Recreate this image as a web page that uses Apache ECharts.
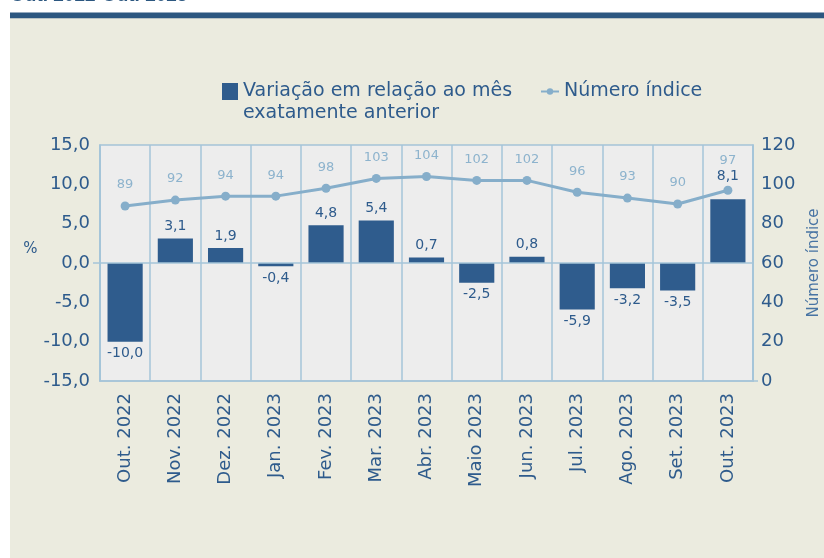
<!DOCTYPE html>
<html><head><meta charset="utf-8">
<script src="https://cdn.jsdelivr.net/npm/echarts@6/dist/echarts.min.js"></script>
<style>html,body{margin:0;padding:0;background:#fff}#c{width:824px;height:558px}</style>
</head><body><div id="c"></div>
<script>
const categories = ['Out. 2022','Nov. 2022','Dez. 2022','Jan. 2023','Fev. 2023','Mar. 2023','Abr. 2023','Maio 2023','Jun. 2023','Jul. 2023','Ago. 2023','Set. 2023','Out. 2023'];
const variacao = [-10.0, 3.1, 1.9, -0.4, 4.8, 5.4, 0.7, -2.5, 0.8, -5.9, -3.2, -3.5, 8.1];
const indice = [89, 92, 94, 94, 98, 103, 104, 102, 102, 96, 93, 90, 97];
const leftAxis = {min: -15, max: 15, interval: 5};
const rightAxis = {min: 0, max: 120, interval: 20};
const titleText = 'Out. 2022-Out. 2023';
const barName = 'Variação em relação ao mês exatamente anterior';
const barLegendLines = ['Variação em relação ao mês', 'exatamente anterior'];
const lineName = 'Número índice';

const DARK = '#2E5B8C', BAR = '#2F5C8D', LINE = '#86AECA', LINELBL = '#8DB3CD', GRIDC = '#A5C4D8';
const fmt = v => v.toFixed(1).replace('.', ',');
const font = '"DejaVu Sans", Verdana, sans-serif';
const last = variacao.length - 1;

const chart = echarts.init(document.getElementById('c'));
const baseGraphic = [
  {type: 'rect', shape: {x: 10, y: 18.5, width: 814, height: 540}, style: {fill: '#EBEBDF'}, z: -10, silent: true},
  {type: 'rect', shape: {x: 10, y: 12.5, width: 814, height: 5.5}, style: {fill: '#2C5780'}, z: -9, silent: true},
  {type: 'rect', shape: {x: 10, y: 18, width: 814, height: 1}, style: {fill: '#B9C3C4'}, z: -9, silent: true},
  {type: 'text', x: 10, y: 5, style: {text: titleText, fill: '#2C5780', font: 'bold 19px "Liberation Sans", Arial, sans-serif', verticalAlign: 'bottom'}, silent: true},
  {type: 'text', x: 243, y: 113, style: {text: barLegendLines[1], fill: DARK, font: '19px ' + font, verticalAlign: 'middle'}, silent: true}
];
const option = {
  backgroundColor: '#ffffff',
  textStyle: {fontFamily: font},
  animation: false,
  graphic: baseGraphic,
  legend: [
    {left: 217, top: 77, itemWidth: 16, itemHeight: 17, selectedMode: false,
     data: [{name: barName, icon: 'rect'}],
     formatter: () => barLegendLines[0],
     textStyle: {fontSize: 19, color: DARK, fontFamily: font}},
    {left: 535, top: 77, itemWidth: 18, itemHeight: 8, selectedMode: false,
     data: [{name: lineName}],
     textStyle: {fontSize: 19, color: DARK, fontFamily: font}}
  ],
  grid: {left: 100, right: 71, top: 145, bottom: 177, outerBoundsMode: 'none', containLabel: false,
    show: true, backgroundColor: '#EDEDED', borderColor: GRIDC, borderWidth: 1.5},
  xAxis: {
    type: 'category', data: categories, boundaryGap: true,
    axisLine: {show: true, onZero: false, lineStyle: {color: GRIDC, width: 1.5}},
    axisTick: {show: false},
    splitLine: {show: true, interval: 0, lineStyle: {color: GRIDC, width: 1.5}},
    axisLabel: {rotate: 90, margin: 12, fontSize: 18, color: DARK, interval: 0, fontFamily: font}
  },
  yAxis: [
    {type: 'value', min: leftAxis.min, max: leftAxis.max, interval: leftAxis.interval, position: 'left',
     name: '%', nameLocation: 'middle', nameRotate: 0, nameGap: 62,
     nameTextStyle: {fontSize: 15, color: DARK, verticalAlign: 'bottom', padding: [0, 0, 6, 0], fontFamily: font},
     axisLine: {show: true, lineStyle: {color: GRIDC, width: 1.5}}, axisTick: {show: false}, splitLine: {show: false},
     axisLabel: {formatter: v => fmt(v), fontSize: 18, color: DARK, margin: 10, fontFamily: font}},
    {type: 'value', min: rightAxis.min, max: rightAxis.max, interval: rightAxis.interval, position: 'right',
     name: 'Número índice', nameLocation: 'middle', nameGap: 47,
     nameTextStyle: {fontSize: 15, color: '#4874A3', fontFamily: font},
     axisLine: {show: true, lineStyle: {color: GRIDC, width: 1.5}}, axisTick: {show: false}, splitLine: {show: false},
     axisLabel: {fontSize: 18, color: DARK, margin: 8, fontFamily: font}}
  ],
  series: [
    {name: barName, type: 'bar', yAxisIndex: 0, barWidth: '70%', itemStyle: {color: BAR},
     data: variacao.map((v, i) => ({value: v, label: {position: v >= 0 ? 'top' : 'bottom', distance: i === last ? 16 : 5}})),
     label: {show: true, formatter: p => fmt(p.value), fontSize: 14, color: DARK, fontFamily: font},
     markLine: {silent: true, symbol: 'none', label: {show: false}, lineStyle: {color: GRIDC, type: 'solid', width: 1.5},
       data: [{yAxis: 0}]},
     z: 2},
    {name: lineName, type: 'line', yAxisIndex: 1, data: indice.map((v, i) => ({value: v, label: {distance: i === last ? 19 : 10}})),
     symbol: 'circle', symbolSize: 9, itemStyle: {color: LINE}, lineStyle: {color: LINE, width: 3},
     label: {show: true, position: 'top', fontSize: 13, color: LINELBL, fontFamily: font}, z: 3}
  ]
};
chart.setOption(option);
const y0 = chart.convertToPixel({yAxisIndex: 0}, 0);
const yb = chart.convertToPixel({yAxisIndex: 1}, 0);
const step = chart.convertToPixel({xAxisIndex: 0}, categories[1]) - chart.convertToPixel({xAxisIndex: 0}, categories[0]);
const xr = chart.convertToPixel({xAxisIndex: 0}, categories[last]) + step / 2;
const xlft = chart.convertToPixel({xAxisIndex: 0}, categories[0]) - step / 2;
chart.setOption({graphic: baseGraphic.concat([
  {type: 'line', shape: {x1: xlft - 7, y1: y0, x2: xlft, y2: y0}, style: {stroke: GRIDC, lineWidth: 1.5}, silent: true},
  {type: 'line', shape: {x1: xr, y1: yb, x2: xr + 5, y2: yb}, style: {stroke: GRIDC, lineWidth: 1.5}, silent: true}
])});
</script></body></html>
